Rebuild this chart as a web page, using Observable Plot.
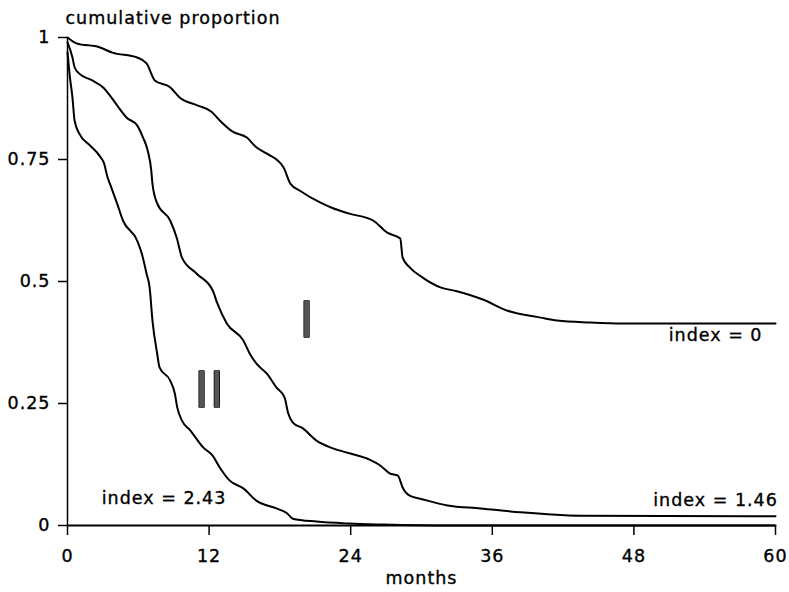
<!DOCTYPE html>
<html>
<head>
<meta charset="utf-8">
<script src="https://cdn.jsdelivr.net/npm/d3@7"></script>
<script src="https://cdn.jsdelivr.net/npm/@observablehq/plot@0.6"></script>
<style>
  html, body { margin: 0; padding: 0; background: #fff; }
  #chart g[aria-label$="tick label"] { stroke: #000; stroke-width: 0.35px; }
</style>
</head>
<body>
<div id="chart"></div>
<script>
// Curve "index = 0"
const monthsA = [0,0.76,2.7,3.8,5.9,6.7,7.4,8.7,9.5,11,12.2,12.9,14,15.2,16,16.9,18.3,18.9,19.7,21.4,22.5,23.9,25.9,27.1,28.2,28.4,29,30.1,31.6,33,35.2,37.3,40.1,41.5,44.3,47.1,60];
const propA = [1,0.988,0.98,0.969,0.959,0.947,0.912,0.898,0.877,0.861,0.848,0.83,0.807,0.795,0.775,0.762,0.734,0.70,0.686,0.662,0.65,0.639,0.625,0.60,0.588,0.549,0.529,0.508,0.488,0.48,0.463,0.44,0.426,0.42,0.416,0.414,0.414];
// Curve "index = 1.46"
const monthsB = [0,0.42,0.6,1,2.1,3,3.6,4.2,5,5.9,6.4,6.8,7.1,7.2,7.6,8.7,9.25,9.7,10.95,12.3,12.7,13.5,14.9,15.45,16,16.9,17.7,18.4,18.7,19.1,19.95,21.1,22.5,23.9,25.6,26.5,27.3,28,28.4,29,29.9,32.2,35,38.4,40.7,43.5,60];
const propB = [0.99,0.959,0.939,0.926,0.912,0.898,0.881,0.861,0.836,0.82,0.795,0.768,0.727,0.70,0.66,0.625,0.59,0.549,0.516,0.482,0.455,0.414,0.379,0.352,0.332,0.311,0.283,0.262,0.23,0.211,0.199,0.174,0.158,0.148,0.135,0.123,0.107,0.102,0.078,0.061,0.055,0.041,0.035,0.027,0.023,0.02,0.019];
// Curve "index = 2.43"
const monthsC = [0,0.17,0.42,0.6,1,1.9,2.7,3.1,3.4,3.6,4.2,4.7,5.9,6.3,6.7,6.96,7.2,7.6,7.8,8.7,9.1,9.3,9.7,10.4,11.5,12.3,12.9,13.75,14.9,16,17.7,18.6,19.1,21.1,23.9,26.7,32.4,60];
const propC = [0.97,0.926,0.877,0.83,0.803,0.779,0.758,0.742,0.713,0.70,0.66,0.625,0.584,0.557,0.516,0.488,0.42,0.352,0.324,0.297,0.27,0.242,0.215,0.195,0.16,0.143,0.119,0.092,0.076,0.051,0.035,0.025,0.014,0.008,0.004,0.002,0,0];

const xTicks = [0, 12, 24, 36, 48, 60];
const yTicks = [0, 0.25, 0.5, 0.75, 1];

const indexLabels = ["index = 0", "index = 1.46", "index = 2.43"];
const indexLabelX = [58.9, 60.2, 2.9];
const indexLabelY = [0.389, 0.051, 0.055];
const indexLabelAnchor = ["end", "end", "start"];

const romanLabels = ["I", "II"];
const romanX = [20.3, 12.05];
const romanY = [0.42, 0.277];

const toRows = (xs, ys, id) => xs.map((x, i) => ({month: x, prop: ys[i], id}));
const curves = [
  ...toRows(monthsA, propA, "0"),
  ...toRows(monthsB, propB, "1.46"),
  ...toRows(monthsC, propC, "2.43")
];
const idxRows = indexLabels.map((t, i) => ({t, x: indexLabelX[i], y: indexLabelY[i], a: indexLabelAnchor[i]}));
const romRows = romanLabels.map((t, i) => ({t, x: romanX[i], y: romanY[i]}));

const FONT = "'DejaVu Sans', sans-serif";
const txt = {fill: "#000", stroke: "#000", strokeWidth: 0.35};

const chart = Plot.plot({
  width: 789,
  height: 592,
  marginLeft: 67,
  marginRight: 14,
  marginTop: 37,
  marginBottom: 67,
  style: {fontFamily: FONT, fontSize: "17.5px", letterSpacing: "1px", color: "#000", background: "#fff"},
  x: {domain: [0, 60]},
  y: {domain: [0, 1]},
  marks: [
    Plot.axisX({ticks: xTicks, tickSize: 10, tickPadding: 14, label: null, tickFormat: d => String(d), strokeWidth: 1.5}),
    Plot.axisY({ticks: yTicks, tickSize: 9, tickPadding: 8, label: null, tickFormat: d => String(d), strokeWidth: 1.5}),
    Plot.ruleY([0], {stroke: "#000", strokeWidth: 1.8}),
    Plot.ruleX([0], {y1: 0, y2: 1, stroke: "#000", strokeWidth: 1.5}),
    Plot.line(curves, {x: "month", y: "prop", z: "id", stroke: "#000", strokeWidth: 2, curve: "monotone-x"}),
    Plot.text(idxRows.filter(d => d.a === "end"), {x: "x", y: "y", text: "t", textAnchor: "end", ...txt}),
    Plot.text(idxRows.filter(d => d.a === "start"), {x: "x", y: "y", text: "t", textAnchor: "start", ...txt}),
    Plot.text(romRows, {x: "x", y: "y", text: "t", fontSize: 51, fontFamily: "'Liberation Sans', Arial, sans-serif", fill: "#555", stroke: "#000", strokeWidth: 1.5, letterSpacing: "-2px"}),
    Plot.text(["cumulative proportion"], {frameAnchor: "top-left", textAnchor: "start", lineAnchor: "middle", dx: -2, dy: -19, ...txt}),
    Plot.text(["months"], {frameAnchor: "bottom", textAnchor: "middle", lineAnchor: "middle", dy: 53, ...txt})
  ]
});
document.getElementById("chart").appendChild(chart);
</script>
</body>
</html>
